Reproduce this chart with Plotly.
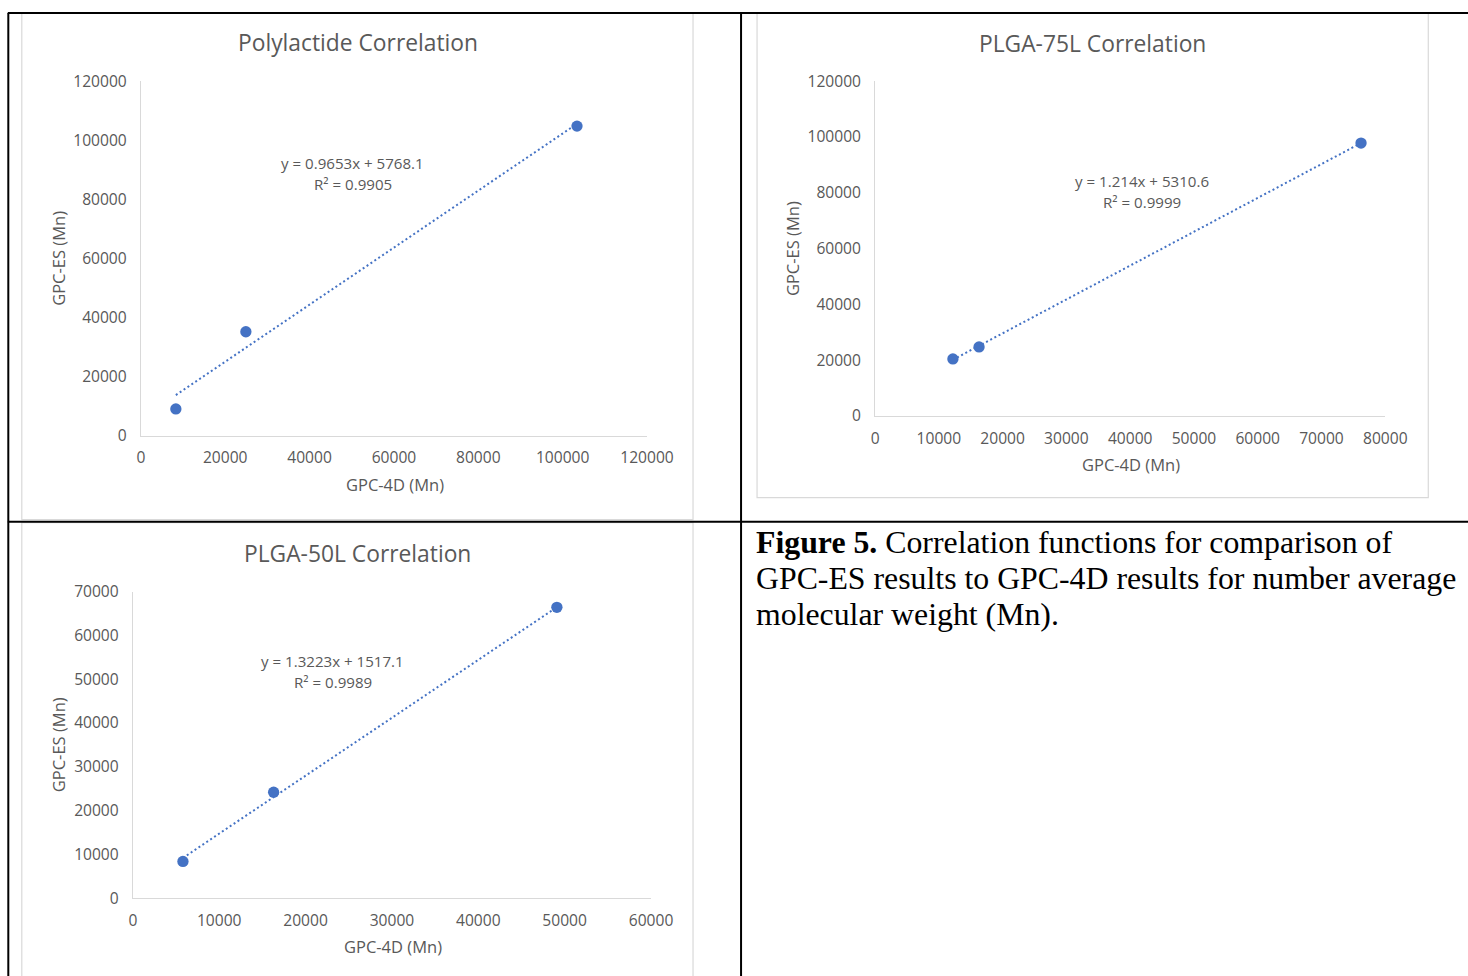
import plotly.graph_objects as go

# The photographed page shows the page scaled by ~0.979 and offset by about
# (4.2, 10.7).  The body margin is removed so the figure starts at the page
# origin; positions below are given in target-picture pixels and converted
# back to figure pixels.
S = 0.979
DX, DY = 4.2, 10.7
FW, FH = 1500, 990

# ---------------- data ----------------
titles = ["Polylactide Correlation", "PLGA-75L Correlation", "PLGA-50L Correlation"]

pla_x = [8300, 24900, 103400]
pla_y = [9100, 35200, 104800]

plga75_x = [12200, 16300, 76200]
plga75_y = [20400, 24700, 97800]

plga50_x = [5800, 16300, 49100]
plga50_y = [8400, 24200, 66400]

slopes = [0.9653, 1.214, 1.3223]
intercepts = [5768.1, 5310.6, 1517.1]
r_squared = ["0.9905", "0.9999", "0.9989"]
equations = ["y = 0.9653x + 5768.1", "y = 1.214x + 5310.6", "y = 1.3223x + 1517.1"]

x_ticks = [list(range(0, 120001, 20000)), list(range(0, 80001, 10000)), list(range(0, 60001, 10000))]
y_ticks = [list(range(0, 120001, 20000)), list(range(0, 120001, 20000)), list(range(0, 70001, 10000))]

x_label = "GPC-4D (Mn)"
y_label = "GPC-ES (Mn)"
caption_lines = ["<b>Figure 5.</b> Correlation functions for comparison of",
                 "GPC-ES results to GPC-4D results for number average",
                 "molecular weight (Mn)."]

# ---------------- helpers (picture pixels -> paper coords) ----------------
def fxp(x):
    return max((x - DX) / S, 1.0)


def fyp(y):
    return max((y - DY) / S, 1.0)


def px(x):
    return fxp(x) / FW


def py(y):
    return 1 - fyp(y) / FH


BLUE = "#4472C4"
GREY_TXT = "#595959"
GREY_LINE = "#d9d9d9"
FONT = "Open Sans"

fig = go.Figure()

series = [(pla_x, pla_y), (plga75_x, plga75_y), (plga50_x, plga50_y)]
axis_names = [("x", "y"), ("x2", "y2"), ("x3", "y3")]

for i, ((xs, ys), (xa, ya)) in enumerate(zip(series, axis_names)):
    x0, x1 = min(xs), max(xs)
    fig.add_trace(go.Scatter(
        x=[x0, x1], y=[slopes[i] * x0 + intercepts[i], slopes[i] * x1 + intercepts[i]],
        mode="lines", line=dict(color=BLUE, width=2, dash="2px,2.7px"),
        xaxis=xa, yaxis=ya, showlegend=False, hoverinfo="skip"))
    fig.add_trace(go.Scatter(
        x=xs, y=ys, mode="markers", marker=dict(color=BLUE, size=11.3),
        xaxis=xa, yaxis=ya, showlegend=False, cliponaxis=False))

# plot-area boxes in picture pixels: (left, right, bottom, top)
plot_boxes = [
    (141, 647, 435, 80),
    (875, 1385, 415, 80),
    (133, 651, 898, 591),
]

layout_axes = {}
for i, (l, r, b, t) in enumerate(plot_boxes):
    sx = "" if i == 0 else str(i + 1)
    common = dict(showgrid=False, zeroline=False, showline=True, linecolor=GREY_LINE,
                  linewidth=1, ticks="", tickformat="d",
                  tickfont=dict(family=FONT, size=15.6, color=GREY_TXT), fixedrange=True)
    layout_axes["xaxis" + sx] = dict(domain=[px(l), px(r)], range=[0, x_ticks[i][-1]],
                                    tickvals=x_ticks[i], anchor="y" + sx,
                                    ticklabelstandoff=8, **common)
    layout_axes["yaxis" + sx] = dict(domain=[py(b), py(t)], range=[0, y_ticks[i][-1]],
                                    tickvals=y_ticks[i], anchor="x" + sx,
                                    ticklabelstandoff=10, **common)

fig.update_layout(**layout_axes)

# ---------------- shapes: table borders and chart frames ----------------
shapes = []


def rect(x0, y0, x1, y1, color, width):
    shapes.append(dict(type="rect", xref="paper", yref="paper",
                       x0=px(x0), x1=px(x1), y0=py(y1), y1=py(y0),
                       line=dict(color=color, width=width), fillcolor="rgba(0,0,0,0)", layer="below"))


def line(x0, y0, x1, y1, color, width):
    shapes.append(dict(type="line", xref="paper", yref="paper",
                       x0=px(x0), x1=px(x1), y0=py(y0), y1=py(y1),
                       line=dict(color=color, width=width)))


rect(22, 11, 693, 519, GREY_LINE, 1.2)
rect(757, 11, 1428, 497, GREY_LINE, 1.2)
rect(22, 522, 693, 1000, GREY_LINE, 1.2)

line(8, 10.5, 1500, 10.5, "black", 2)
line(8, 521, 1500, 521, "black", 2)
line(8.5, 9.5, 8.5, 1000, "black", 2)
line(741, 9.5, 741, 1000, "black", 2)

fig.update_layout(shapes=shapes)

# ---------------- annotations ----------------
ann = []


def text(x, y, s, size, color=GREY_TXT, family=FONT, angle=0, xanchor="center"):
    ann.append(dict(x=px(x), y=py(y), xref="paper", yref="paper", text=s, showarrow=False,
                    font=dict(family=family, size=size, color=color), textangle=angle,
                    xanchor=xanchor, yanchor="middle"))


title_pos = [(358, 41), (1092, 42), (358, 553)]
xlab_pos = [(395, 484), (1131, 464), (393, 946)]
ylab_pos = [(59, 257), (792, 248), (59, 744)]
eq_pos = [(353, 162), (1142, 180), (333, 661)]

for i in range(3):
    text(*title_pos[i], titles[i], 22.8)
    text(*xlab_pos[i], x_label, 16.5)
    text(*ylab_pos[i], y_label, 16.5, angle=-90)
    text(eq_pos[i][0], eq_pos[i][1], equations[i], 15.1)
    text(eq_pos[i][0], eq_pos[i][1] + 21, "R² = " + r_squared[i], 15.1)

for j, s in enumerate(caption_lines):
    text(754, 542 + 36 * j, s, 31.8, color="black", family="Liberation Serif", xanchor="left")

fig.update_layout(annotations=ann)

fig.update_layout(width=FW, height=FH, margin=dict(l=0, r=0, t=0, b=0),
                  paper_bgcolor="white", plot_bgcolor="white")

fig.write_html("out.html", include_plotlyjs=True, config={"displayModeBar": False},
               post_script="document.body.style.margin='0';")
